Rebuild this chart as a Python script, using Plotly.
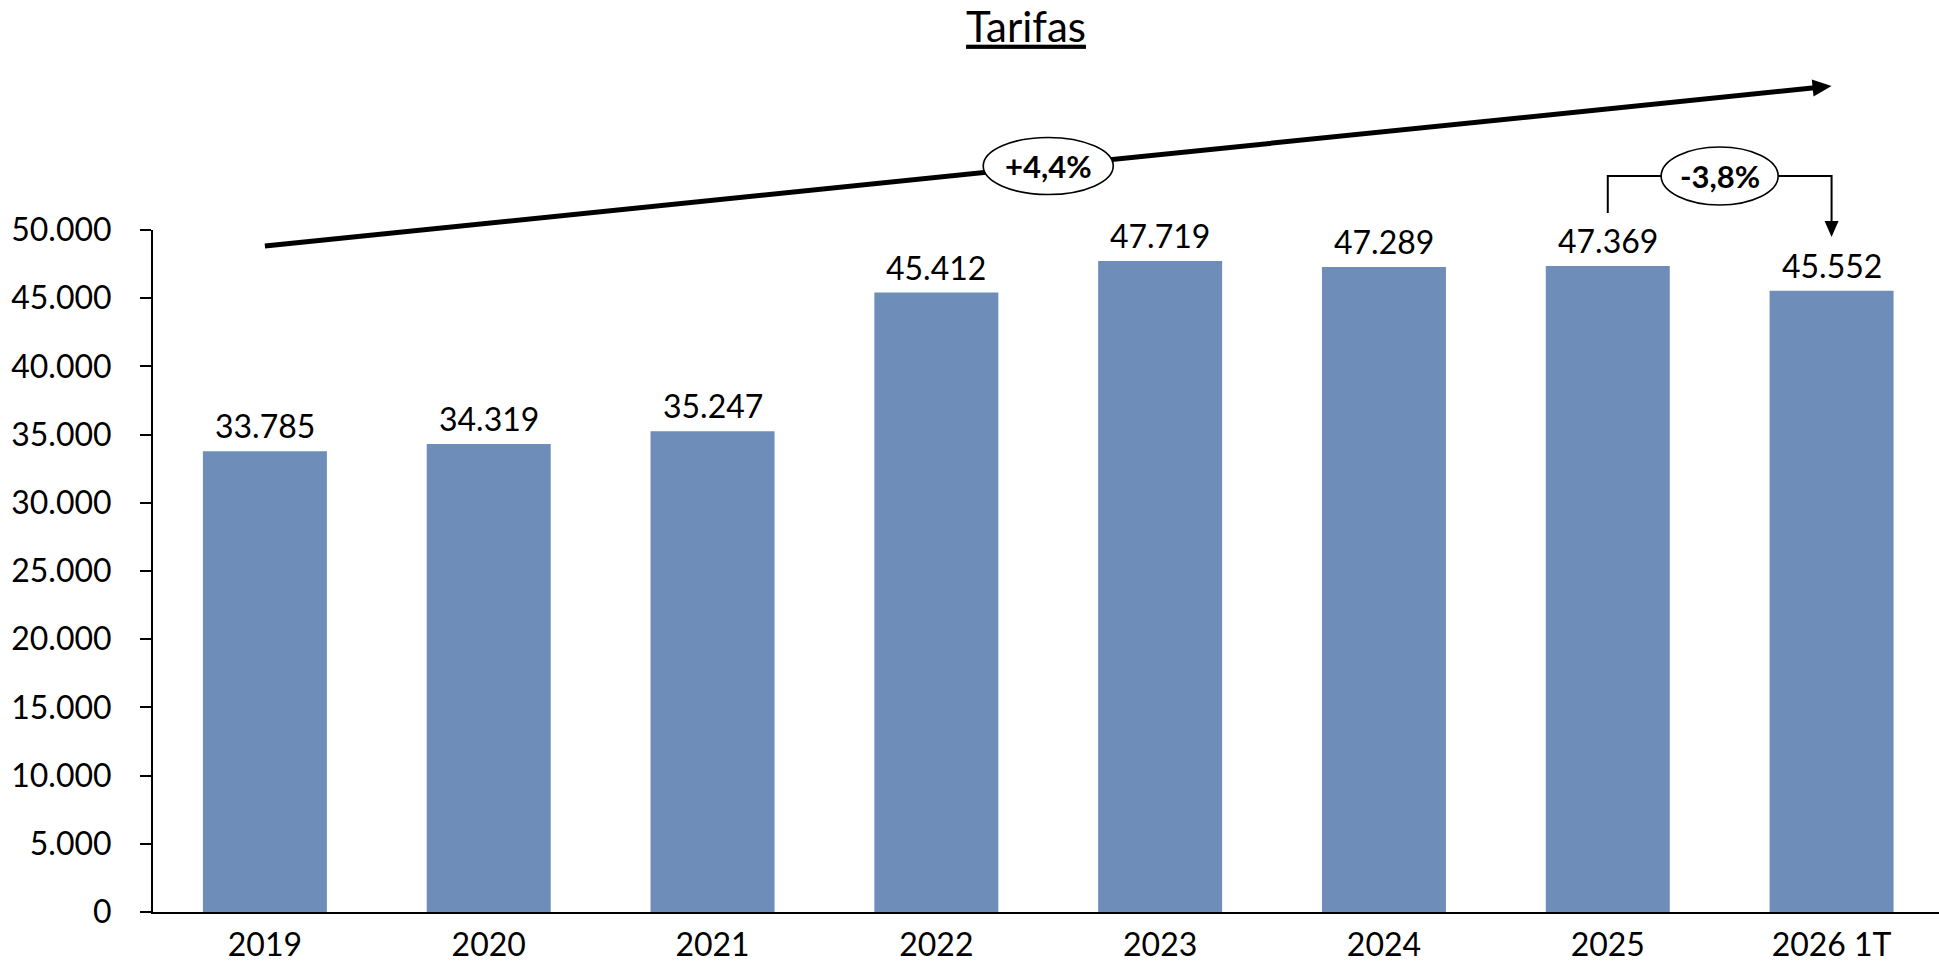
import math
import plotly.graph_objects as go

# Series
years = ["2019", "2020", "2021", "2022", "2023", "2024", "2025", "2026 1T"]
tarifas = [33785, 34319, 35247, 45412, 47719, 47289, 47369, 45552]
y_ticks = list(range(0, 50001, 5000))
trend_label = "+4,4%"
change_label = "-3,8%"

# Canvas / plot-area geometry (pixels)
W, H = 1939, 966
M_L, M_R, M_T, M_B = 153, 0, 230, 54
X_RANGE = [-0.5, 7.48]
Y_MAX = 50000
PLOT_W = W - M_L - M_R
PLOT_H = H - M_T - M_B

BAR_COLOR = "#6E8DB8"
FONT = "Lato"
TEXT_SIZE = 32


def fmt(v):
    return f"{v:,}".replace(",", ".")


def cat_px(i):
    """Pixel x of the centre of category i."""
    return M_L + (i - X_RANGE[0]) / (X_RANGE[1] - X_RANGE[0]) * PLOT_W


def to_paper(px, py):
    """Pixel (from top-left) -> paper coordinates."""
    return (px - M_L) / PLOT_W, (H - M_B - py) / PLOT_H


def arrow_head(tip, tail, length, half_w):
    """Triangle path (paper coords) pointing from tail towards tip, in pixels."""
    dx, dy = tip[0] - tail[0], tip[1] - tail[1]
    d = math.hypot(dx, dy)
    ux, uy = dx / d, dy / d
    nx, ny = -uy, ux
    bx, by = tip[0] - ux * length, tip[1] - uy * length
    pts = [tip, (bx + nx * half_w, by + ny * half_w), (bx - nx * half_w, by - ny * half_w)]
    pp = [to_paper(*p) for p in pts]
    path = "M {:.5f},{:.5f} L {:.5f},{:.5f} L {:.5f},{:.5f} Z".format(*[c for p in pp for c in p])
    return path, (bx + ux * 2, by + uy * 2)


def ellipse(cx, cy, w, h):
    x0, y0 = to_paper(cx - w / 2, cy + h / 2)
    x1, y1 = to_paper(cx + w / 2, cy - h / 2)
    return dict(type="circle", xref="paper", yref="paper", x0=x0, y0=y0, x1=x1, y1=y1,
                fillcolor="white", line=dict(color="black", width=1.6), layer="above")


fig = go.Figure(
    go.Bar(x=years, y=tarifas, marker=dict(color=BAR_COLOR, line=dict(width=0)),
           hoverinfo="x+y")
)

shapes = []
annotations = []

# Long trend arrow from the first to the last period
trend_start = (cat_px(0), 246)
trend_tip = (cat_px(7), 86)
head_path, line_end = arrow_head(trend_tip, trend_start, 19, 8.5)
sx, sy = to_paper(*trend_start)
ex, ey = to_paper(*line_end)
shapes.append(dict(type="line", xref="paper", yref="paper", x0=sx, y0=sy, x1=ex, y1=ey,
                   line=dict(color="black", width=5), layer="above"))
shapes.append(dict(type="path", xref="paper", yref="paper", path=head_path,
                   fillcolor="black", line=dict(width=0), layer="above"))
mid = ((trend_start[0] + trend_tip[0]) / 2, (trend_start[1] + trend_tip[1]) / 2)
shapes.append(ellipse(mid[0], mid[1], 130, 57))
mx, my = to_paper(*mid)
annotations.append(dict(text=trend_label, xref="paper", yref="paper", x=mx, y=my,
                        showarrow=False, xanchor="center", yanchor="middle",
                        font=dict(family=FONT, size=31, color="black", weight="bold")))

# Bracket arrow between the last two periods
left_x, right_x = cat_px(6), cat_px(7)
top_y = 176
small_tip = (right_x, 237)
small_head, small_end = arrow_head(small_tip, (right_x, top_y), 16, 7)
p = [to_paper(left_x, 213), to_paper(left_x, top_y), to_paper(right_x, top_y), to_paper(*small_end)]
shapes.append(dict(type="path", xref="paper", yref="paper",
                   path="M {:.5f},{:.5f} L {:.5f},{:.5f} L {:.5f},{:.5f} L {:.5f},{:.5f}".format(
                       *[c for q in p for c in q]),
                   line=dict(color="black", width=2), fillcolor="rgba(0,0,0,0)", layer="above"))
shapes.append(dict(type="path", xref="paper", yref="paper", path=small_head,
                   fillcolor="black", line=dict(width=0), layer="above"))
bx_mid = (left_x + right_x) / 2
shapes.append(ellipse(bx_mid, top_y, 117, 58))
cx, cy = to_paper(bx_mid, top_y)
annotations.append(dict(text=change_label, xref="paper", yref="paper", x=cx, y=cy,
                        showarrow=False, xanchor="center", yanchor="middle",
                        font=dict(family=FONT, size=31, color="black", weight="bold")))

# Value labels above each bar (x given as category index)
for i, v in enumerate(tarifas):
    annotations.append(dict(text=fmt(v), x=i, y=v, xref="x", yref="y", showarrow=False,
                            xanchor="center", yanchor="bottom", yshift=4,
                            font=dict(family=FONT, size=TEXT_SIZE, color="black")))

fig.update_layout(
    width=W, height=H,
    margin=dict(l=M_L, r=M_R, t=M_T, b=M_B, pad=0),
    paper_bgcolor="white", plot_bgcolor="white",
    font=dict(family=FONT, size=TEXT_SIZE, color="black"),
    separators=",.",
    bargap=0.446,
    showlegend=False,
    title=dict(text="Tarifas", xref="container", yref="container",
               x=1026 / W, xanchor="center", y=1 - 27 / H, yanchor="middle",
               font=dict(family=FONT, size=42, color="black", lineposition="under")),
    xaxis=dict(type="category", range=X_RANGE, showline=True, linecolor="black", linewidth=2,
               ticks="", ticklabelstandoff=4, showgrid=False, zeroline=False, fixedrange=True),
    yaxis=dict(range=[0, Y_MAX], tickvals=y_ticks, tickformat=",d", showline=True,
               linecolor="black", linewidth=2, ticks="outside", ticklen=11, tickwidth=2,
               tickcolor="black", ticklabelstandoff=22, showgrid=False, zeroline=False,
               fixedrange=True),
    shapes=shapes,
    annotations=annotations,
)

fig.write_html("out.html")
